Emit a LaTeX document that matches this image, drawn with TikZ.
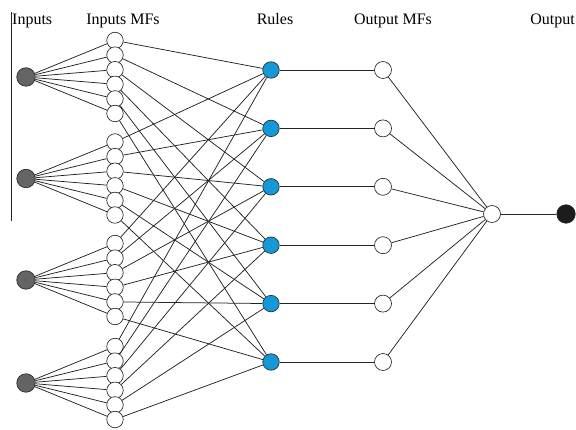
\documentclass[tikz,border=0pt]{standalone}
\usepackage{fontspec}
\setmainfont{Liberation Serif}
\definecolor{rulefill}{RGB}{20,152,214}
\definecolor{inpfill}{RGB}{100,100,100}
\definecolor{finfill}{RGB}{28,28,28}
\definecolor{linec}{RGB}{35,35,35}
\begin{document}
\begin{tikzpicture}[x=1pt,y=-1pt,
  inp/.style={circle,draw=linec,fill=inpfill,minimum size=18.5pt,inner sep=0pt,line width=0.6pt},
  mf/.style={circle,draw=linec,fill=white,minimum size=16.5pt,inner sep=0pt,line width=0.65pt},
  rulenode/.style={circle,draw=linec,fill=rulefill,minimum size=16.5pt,inner sep=0pt,line width=0.6pt},
  omf/.style={circle,draw=linec,fill=white,minimum size=17pt,inner sep=0pt,line width=0.65pt},
  finnode/.style={circle,draw=linec,fill=finfill,minimum size=18.5pt,inner sep=0pt,line width=0.6pt},
  conn/.style={draw=linec,line width=0.75pt},
  lbl/.style={font=\fontsize{16}{19}\selectfont,inner sep=0pt}]
\path[use as bounding box] (0,0) rectangle (576,430);
\clip (0,0) rectangle (576,430);
% labels
\node[lbl,anchor=base west] (tinp) at (12,25) {Inputs};
\node[lbl,anchor=base] (tmf) at (123,25) {Inputs MFs};
\node[lbl,anchor=base] (trules) at (275,25) {Rules};
\node[lbl,anchor=base] (tomf) at (393,25) {Output MFs};
\node[lbl,anchor=base east] (tout) at (575,25) {Output};
% vertical bar
\coordinate (vtop) at (11,12);
\coordinate (vbot) at (11,221);
\draw[draw=linec,line width=0.8pt] (vtop) -- (vbot);
% nodes
\foreach \i/\yy in {1/77,2/178.5,3/280,4/383} {
  \node[inp] (in\i) at (26,\yy) {};
  \foreach \j in {1,...,6} {
    \node[mf] (mf\i\j) at (115,{\yy+(\j-3.5)*14.6}) {};
  }
}
\foreach \j in {1,...,6} {
  \node[rulenode] (r\j) at (271,{70+(\j-1)*58.4}) {};
  \node[omf] (o\j) at (383,{70+(\j-1)*58.4}) {};
}
\node[omf] (out) at (492,214) {};
\node[finnode] (fin) at (566,214) {};
% connectors
\foreach \i in {1,...,4} {
  \foreach \j in {1,...,6} {
    \draw[conn] (in\i) -- (mf\i\j);
    \draw[conn] (mf\i\j) -- (r\j);
  }
}
\foreach \j in {1,...,6} {
  \draw[conn] (r\j) -- (o\j);
  \draw[conn] (o\j) -- (out);
}
\draw[conn] (out) -- (fin);
\end{tikzpicture}
\end{document}
